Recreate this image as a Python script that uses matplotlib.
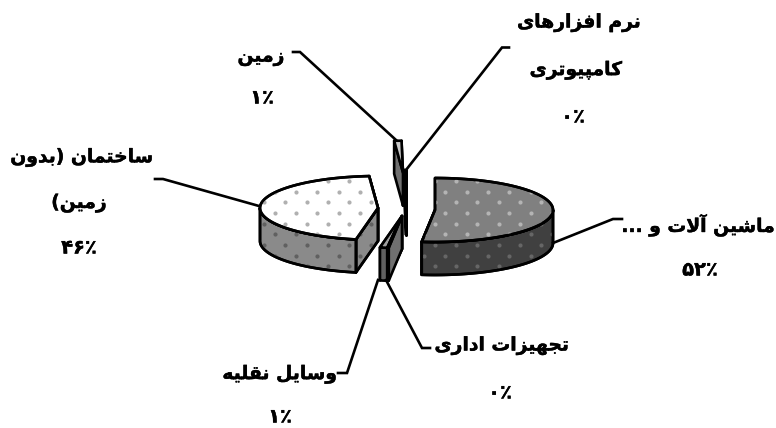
import numpy as np
import matplotlib
matplotlib.use("Agg")
import matplotlib.pyplot as plt
import matplotlib.patheffects as pe
from matplotlib.patches import Polygon

# ---- data (clockwise from 12 o'clock) ----
categories = ["ماشین آلات و ...", "تجهیزات اداری", "وسایل نقلیه",
              "ساختمان (بدون\nزمین)", "زمین", "نرم افزارهای\nکامپیوتری"]
values = [52, 0.2, 1, 46, 1, 0.2]
percent_labels = ["۵۲٪", "۰٪", "۱٪", "۴۶٪", "۱٪", "۰٪"]

# ---- layout / style ----
W, H = 776, 428
RX, RY, DEPTH = 118, 32, 33
centers = [(435, 210), (402, 216), (402, 216), (378, 208), (403, 172.7), (406, 202)]
top_cols = ["#808080", "#909090", "#a0a0a0", "#ffffff", "#c8c8c8", "#808080"]
wall_cols = ["#404040", "#505050", "#606060", "#8a8a8a", "#606060", "#404040"]
side_cols = ["#404040", "#707070", "#707070", "#8a8a8a", "#707070", "#404040"]
top_dots = ["#b4b4b4", None, None, "#b0b0b0", None, None]
wall_dots = ["#666666", None, None, "#606060", None, None]
leaders = [[(622, 219), (613, 219), (553, 243)],
           [(430, 348), (422, 348), (386, 280)],
           [(338, 373), (347, 373), (378, 280)],
           [(155, 179), (163, 179), (259, 206)],
           [(293, 52), (300, 52), (396, 140)],
           [(509, 47.5), (502, 47.5), (406, 170)]]
# centre x, y of each text line, last one is the percentage
label_pos = [[(698, 225), (700, 270)],
             [(502, 346), (500, 393)],
             [(280, 374), (280, 417)],
             [(82, 157), (79, 203), (79, 248)],
             [(261, 57), (262, 98)],
             [(579, 23), (576, 70), (573, 117)]]
FS = 13.5
FS_PCT = 14
LW = 1.9

# ---- Arabic shaping (matplotlib has none): forms = isolated, final, initial, medial ----
FORMS = {
    "ا": (0xFE8D, 0xFE8E), "آ": (0xFE81, 0xFE82), "د": (0xFEA9, 0xFEAA), "ر": (0xFEAD, 0xFEAE),
    "ز": (0xFEAF, 0xFEB0), "و": (0xFEED, 0xFEEE),
    "ب": (0xFE8F, 0xFE90, 0xFE91, 0xFE92), "پ": (0xFB56, 0xFB57, 0xFB58, 0xFB59),
    "ت": (0xFE95, 0xFE96, 0xFE97, 0xFE98), "ج": (0xFE9D, 0xFE9E, 0xFE9F, 0xFEA0),
    "خ": (0xFEA5, 0xFEA6, 0xFEA7, 0xFEA8), "س": (0xFEB1, 0xFEB2, 0xFEB3, 0xFEB4),
    "ش": (0xFEB5, 0xFEB6, 0xFEB7, 0xFEB8), "ف": (0xFED1, 0xFED2, 0xFED3, 0xFED4),
    "ق": (0xFED5, 0xFED6, 0xFED7, 0xFED8), "ک": (0xFB8E, 0xFB8F, 0xFB90, 0xFB91),
    "ل": (0xFEDD, 0xFEDE, 0xFEDF, 0xFEE0), "م": (0xFEE1, 0xFEE2, 0xFEE3, 0xFEE4),
    "ن": (0xFEE5, 0xFEE6, 0xFEE7, 0xFEE8), "ه": (0xFEE9, 0xFEEA, 0xFEEB, 0xFEEC),
    "ی": (0xFBFC, 0xFBFD, 0xFBFE, 0xFBFF),
}


def shape(text):
    out = []
    i = 0
    prev_joins = False
    while i < len(text):
        c = text[i]
        nxt = text[i + 1] if i + 1 < len(text) else ""
        if c not in FORMS:
            out.append({"(": ")", ")": "("}.get(c, c))
            prev_joins = False
            i += 1
            continue
        if c == "ل" and nxt == "ا":
            out.append(chr(0xFEFC if prev_joins else 0xFEFB))
            prev_joins = False
            i += 2
            continue
        f = FORMS[c]
        next_ok = nxt in FORMS
        if len(f) == 2:
            out.append(chr(f[1] if prev_joins else f[0]))
            prev_joins = False
        else:
            if prev_joins and next_ok:
                out.append(chr(f[3]))
            elif prev_joins:
                out.append(chr(f[1]))
            elif next_ok:
                out.append(chr(f[2]))
            else:
                out.append(chr(f[0]))
            prev_joins = next_ok
        i += 1
    return "".join(reversed(out))


# ---- figure ----
fig = plt.figure(figsize=(W / 100, H / 100), dpi=100)
ax = fig.add_axes([0, 0, 1, 1])
ax.set_xlim(0, W)
ax.set_ylim(H, 0)
ax.axis("off")

# global dot lattice of the texture
gx, gy = np.meshgrid(np.arange(-20, 40) * 21.33 + 296, np.arange(-5, 20) * 21.33 + 191.7)
dots_x = np.concatenate([gx.ravel(), gx.ravel() - 10.67])
dots_y = np.concatenate([gy.ravel(), gy.ravel() + 10.67])


def rim(c, deg):
    t = np.radians(deg)
    return c[0] + RX * np.sin(t), c[1] - RY * np.cos(t)


def face(pts, col, dot, z):
    p = Polygon(pts, closed=True, facecolor=col, edgecolor="black", lw=LW,
                joinstyle="round", zorder=z)
    ax.add_patch(p)
    if dot:
        d = ax.scatter(dots_x, dots_y, s=9, color=dot, linewidths=0, zorder=z + 0.01)
        d.set_clip_path(p)
        e = Polygon(pts, closed=True, facecolor="none", edgecolor="black", lw=LW,
                    joinstyle="round", zorder=z + 0.02)
        ax.add_patch(e)


def slice3d(c, a0, a1, i, z):
    # radial walls, the one further back first
    rad = sorted([a0, a1], key=lambda a: rim(c, a)[1])
    for k, a in enumerate(rad):
        r = rim(c, a)
        face([c, r, (r[0], r[1] + DEPTH), (c[0], c[1] + DEPTH)], side_cols[i],
             wall_dots[i], z + k * 0.1)
    # outer wall: only the part facing the viewer
    lo, hi = max(a0, 90), min(a1, 270)
    if hi > lo:
        ang = np.linspace(lo, hi, 80)
        up = [rim(c, a) for a in ang]
        dn = [(x, y + DEPTH) for x, y in up][::-1]
        face(up + dn, wall_cols[i], wall_dots[i], z + 0.3)
    # top face
    ang = np.linspace(a0, a1, 120)
    face([c] + [rim(c, a) for a in ang], top_cols[i], top_dots[i], z + 0.5)


total = sum(values)
start = 0.0
order = [3, 4, 5, 0, 2, 1]
spans = []
for v in values:
    spans.append((start, start + v / total * 360))
    start += v / total * 360
for n, i in enumerate(order):
    slice3d(centers[i], spans[i][0], spans[i][1], i, 2 + n)

for pts in leaders:
    xs, ys = zip(*pts)
    ax.plot(xs, ys, color="black", lw=LW, solid_joinstyle="miter", zorder=20)

bold = [pe.withStroke(linewidth=0.3, foreground="black")]
for name, pct, pos in zip(categories, percent_labels, label_pos):
    lines = name.split("\n")
    for ln, (x, y) in zip(lines, pos):
        ax.text(x, y, shape(ln), ha="center", va="center", fontsize=FS, path_effects=bold,
                fontweight="bold", family="DejaVu Sans", color="black", zorder=30)
    x, y = pos[-1]
    ax.text(x, y, pct, ha="center", va="center", fontsize=FS_PCT, path_effects=bold,
            fontweight="bold", family="DejaVu Sans", color="black", zorder=30)

fig.savefig("out.png", dpi=100, facecolor="white")
